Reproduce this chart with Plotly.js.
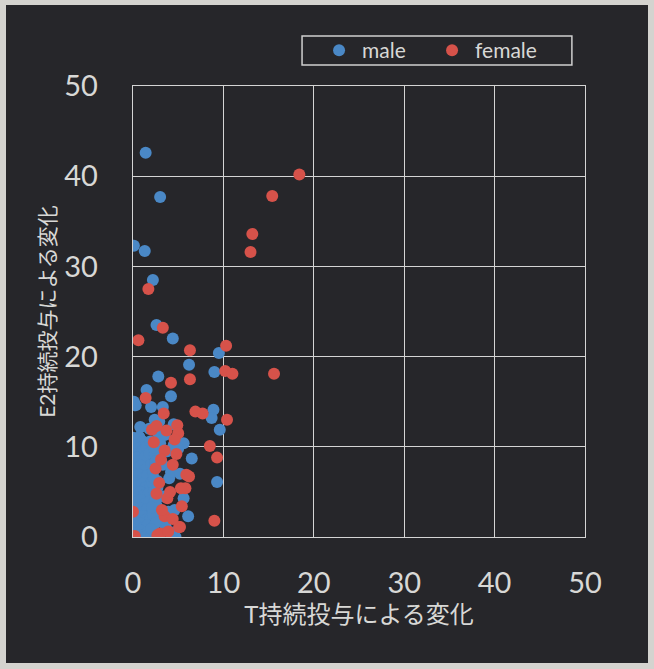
<!DOCTYPE html>
<html>
<head>
<meta charset="utf-8">
<script src="https://cdn.plot.ly/plotly-3.0.1.min.js"></script>
<style>
  html, body { margin: 0; padding: 0; background: #d4d3cf; }
  #chart { position: absolute; left: 6px; top: 5px; width: 642px; height: 658px; }
</style>
</head>
<body>
<div id="chart"></div>
<script>
// Series: "male" (blue) and "female" (red). x = T持続投与による変化, y = E2持続投与による変化
var maleX = [1.4,3.0,0.1,1.3,2.2,2.6,4.4,6.2,9.5,9.0,2.8,1.5,4.2,0.1,0.3,2.0,3.3,8.9,8.7,9.6,0.8,2.9,5.6,6.5,9.3,5.6,6.1,4.7,4.6,
  0.0,0.3,0.7,1.1,0.2,0.6,1.0,1.5,0.0,0.4,0.8,1.3,1.8,0.1,0.5,0.9,1.4,2.0,0.0,0.3,0.7,1.1,1.6,2.2,0.2,0.6,1.0,1.4,1.9,
  0.0,0.4,0.8,1.2,1.7,2.3,0.1,0.5,0.9,1.3,1.8,0.0,0.4,0.8,1.2,1.6,2.1,0.2,0.6,1.0,1.4,1.9,0.0,0.4,0.8,1.2,1.6,2.2,
  0.1,0.5,0.9,1.3,1.7,0.3,0.7,1.1,1.5,2.0,2.5,2.6,2.7,2.4,3.0,3.3,3.0,3.6,3.4,4.0,3.8,4.5,4.2,3.9,4.3,5.2,5.0,2.8,1.8,2.4,4.5,3.5,
  2.3,2.5,2.1,2.4,2.2,2.6,2.0,2.3,1.9,2.5,2.7,2.1];
var maleY = [42.6,37.7,32.3,31.7,28.5,23.5,22.0,19.1,20.4,18.3,17.8,16.3,15.6,15.0,14.6,14.4,14.4,14.1,13.2,11.9,12.2,12.8,10.4,8.7,6.1,4.3,2.3,0.0,3.0,
  11.0,10.8,11.1,10.6,10.2,9.8,9.5,10.0,9.2,8.8,8.5,8.9,9.3,8.0,7.6,7.9,7.5,8.0,7.0,6.7,6.9,6.5,6.8,7.1,6.0,5.7,5.9,5.5,5.8,
  5.2,4.9,5.0,4.6,4.8,5.1,4.2,3.9,4.1,3.7,3.9,3.3,3.0,3.2,2.8,3.1,2.9,2.4,2.1,2.3,1.9,2.0,1.6,1.3,1.5,1.1,1.3,1.0,
  0.8,0.5,0.7,0.3,0.6,0.1,0.2,0.0,0.1,0.2,0.4,3.5,6.2,9.2,10.4,8.0,2.0,1.2,4.5,6.5,9.5,10.2,7.2,2.8,0.5,7.0,9.8,11.5,12.0,13.0,12.5,11.3,
  9.9,8.4,6.1,4.0,2.5,1.6,0.9,6.5,10.6,7.8,5.5,3.3];

var femaleX = [18.4,15.4,13.2,13.0,1.7,3.3,0.6,6.3,10.3,10.2,11.0,15.6,6.3,4.2,1.4,6.9,7.7,10.4,8.5,9.3,9.0,6.2,5.8,5.4,5.2,3.0,0.0,
  3.4,2.1,4.9,5.0,4.6,3.5,2.9,3.8,5.3,5.9,3.5,5.1,2.7,0.0,0.2,2.3,2.5,3.1,2.6,3.2,4.1,4.4,3.7,2.6,4.8,4.4,3.9];
var femaleY = [40.2,37.8,33.6,31.6,27.5,23.2,21.8,20.7,21.2,18.4,18.1,18.1,17.5,17.1,15.4,13.9,13.7,13.0,10.1,8.8,1.8,6.7,5.4,3.4,1.1,0.4,0.0,
  13.7,11.9,12.4,11.5,10.8,9.6,6.0,4.3,5.4,6.9,2.3,1.1,0.2,2.8,0.1,10.5,7.6,8.6,4.8,3.0,5.0,8.0,11.8,12.3,9.2,2.0,0.6];

var tickVals = [0, 10, 20, 30, 40, 50];
var tickText = ['0', '10', '20', '30', '40', '50'];
var xTitle = 'T持続投与による変化';
var yTitle = 'E2持続投与による変化';

var FONT = "Lato, 'Noto Sans CJK JP', sans-serif";
var TXT = '#d8d8d6';
var GRID = '#d4d4d4';

var traces = [
  {x: maleX, y: maleY, name: 'male', type: 'scatter', mode: 'markers',
   marker: {color: '#4a88c6', size: 12}},
  {x: femaleX, y: femaleY, name: 'female', type: 'scatter', mode: 'markers',
   marker: {color: '#d6524a', size: 12}}
];

var axisCommon = {
  range: [0, 50], tickvals: tickVals, ticktext: tickText,
  showgrid: true, gridcolor: GRID, gridwidth: 1.3,
  zeroline: false, showline: true, mirror: true, linecolor: GRID, linewidth: 1.3,
  ticks: '', tickfont: {family: FONT, size: 29, color: TXT},
  fixedrange: true
};

var layout = {
  width: 642, height: 658,
  margin: {l: 127, r: 63, t: 81, b: 126},
  paper_bgcolor: '#26262a', plot_bgcolor: '#26262a',
  font: {family: FONT, color: TXT},
  showlegend: true,
  legend: {
    orientation: 'h', x: 0.405, xanchor: 'left', y: 1.0787, yanchor: 'middle',
    bgcolor: 'rgba(0,0,0,0)', borderwidth: 0, itemwidth: 36,
    font: {family: FONT, size: 21, color: TXT}, entrywidth: 62
  },
  // legend frame
  shapes: [{type: 'rect', xref: 'paper', yref: 'paper', x0: 0.374, x1: 0.971, y0: 1.0466, y1: 1.111,
            line: {color: '#cfcfcf', width: 1.5}, fillcolor: 'rgba(0,0,0,0)'}],
  xaxis: Object.assign({}, axisCommon, {
    ticklabelstandoff: 20,
    title: {text: xTitle, font: {family: FONT, size: 24, color: TXT}, standoff: 8}
  }),
  yaxis: Object.assign({}, axisCommon, {
    ticklabelstandoff: 28,
    title: {text: yTitle, font: {family: FONT, size: 21, color: TXT}, standoff: 3}
  })
};

Plotly.newPlot('chart', traces, layout, {displayModeBar: false, staticPlot: true});
</script>
</body>
</html>
